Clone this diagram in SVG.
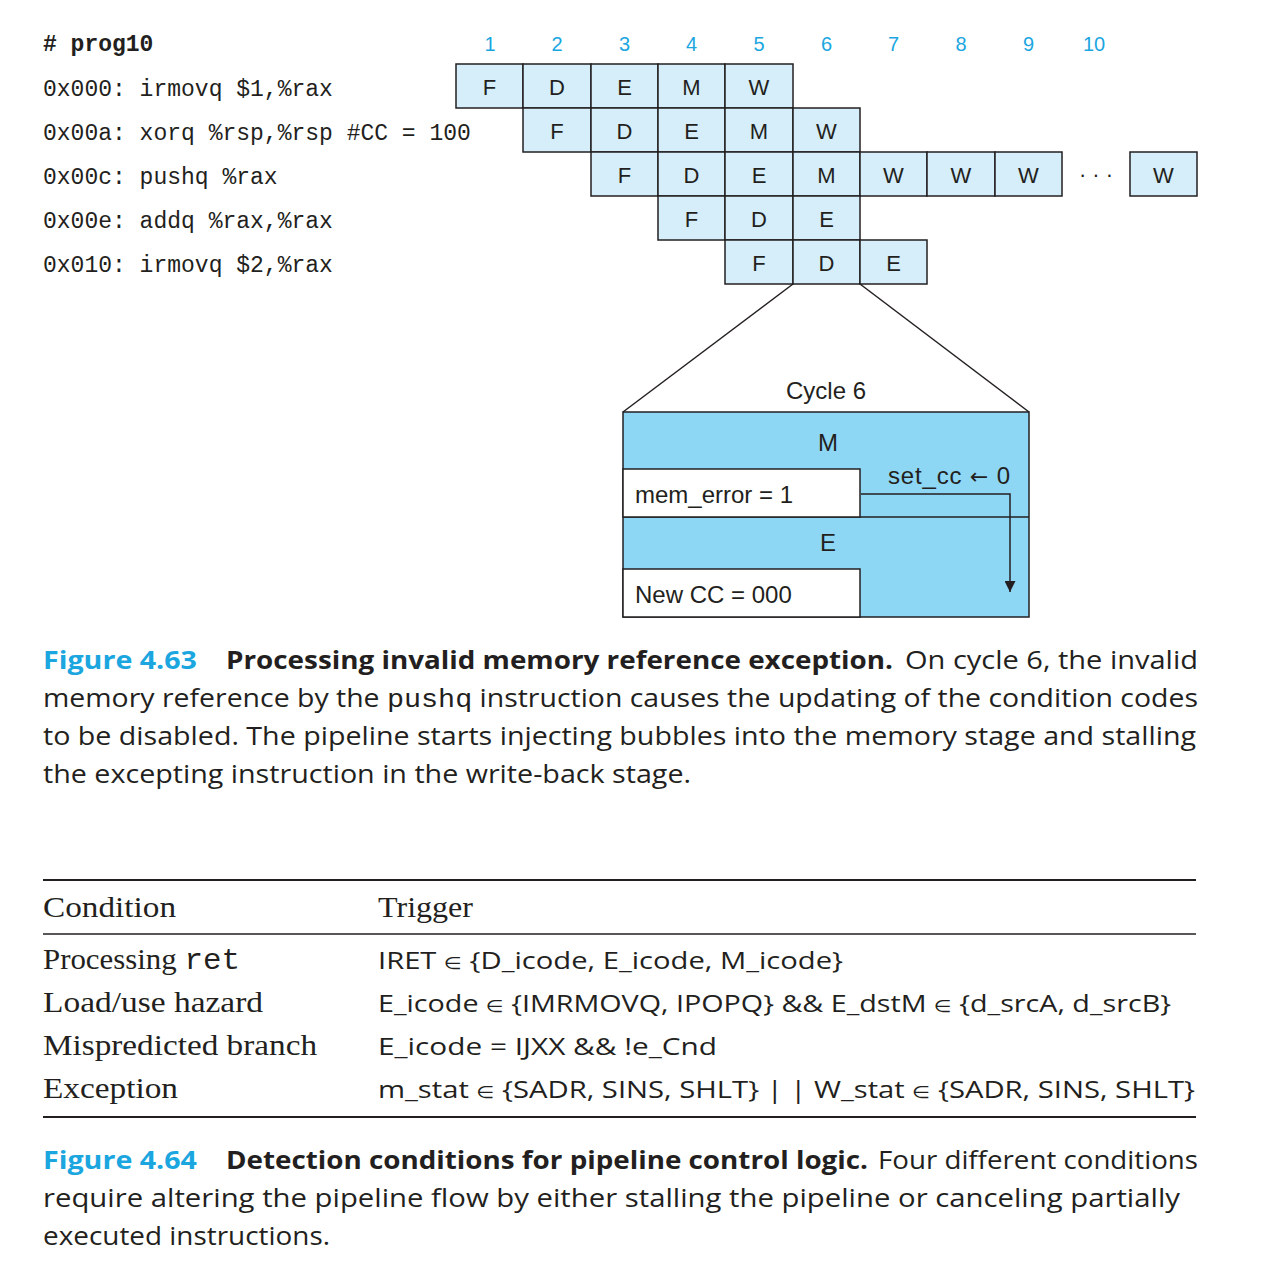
<svg xmlns="http://www.w3.org/2000/svg" width="1280" height="1288" viewBox="0 0 1280 1288">
<style>
.bg{fill:#ffffff}
.cell{fill:#d5eefa;stroke:#231f20;stroke-width:1.5}
.lbl{font-family:"Liberation Sans",Arial,sans-serif;font-size:22px;fill:#231f20;text-anchor:middle}
.num{font-family:"Liberation Sans",Arial,sans-serif;font-size:20px;fill:#1ba6e0;text-anchor:middle}
.code{font-family:"Liberation Mono","DejaVu Sans Mono",monospace;font-size:23px;fill:#231f20}
.box{fill:#8dd6f4;stroke:#231f20;stroke-width:1.5}
.wbox{fill:#ffffff;stroke:#231f20;stroke-width:1.5}
.blbl{font-family:"Liberation Sans",Arial,sans-serif;font-size:24px;fill:#231f20}
.conn{fill:none;stroke:#231f20;stroke-width:1.5}
.cap{font-family:"Open Sans","Liberation Sans",sans-serif;font-size:25px;fill:#231f20}
.b{font-weight:bold}
.fig{fill:#1ba6e0;font-weight:bold}
.mono{font-family:"Liberation Mono","DejaVu Sans Mono",monospace}
.ser{font-family:"Liberation Serif","Times New Roman",serif;font-size:29px;fill:#231f20}
.trg{font-family:"Open Sans","Liberation Sans","DejaVu Sans",sans-serif;font-size:24px;fill:#231f20}
.el{font-family:"DejaVu Sans",sans-serif;font-size:17px}
.rule{stroke:#231f20;fill:none}
</style>
<defs>
<marker id="ah" viewBox="0 0 10 10" refX="10" refY="5" markerWidth="11" markerHeight="11" markerUnits="userSpaceOnUse" orient="auto">
<path d="M0,0 L10,5 L0,10 z" fill="#231f20"/>
</marker>
</defs>
<rect class="bg" x="0" y="0" width="1280" height="1288"/>

<g id="code">
<text class="code b" x="43" y="51"># prog10</text>
<text class="code" x="43" y="96">0x000: irmovq $1,%rax</text>
<text class="code" x="43" y="140">0x00a: xorq %rsp,%rsp #CC = 100</text>
<text class="code" x="43" y="184">0x00c: pushq %rax</text>
<text class="code" x="43" y="228">0x00e: addq %rax,%rax</text>
<text class="code" x="43" y="272">0x010: irmovq $2,%rax</text>
</g>

<g id="cycles">
<text class="num" x="490" y="51">1</text>
<text class="num" x="557" y="51">2</text>
<text class="num" x="624.5" y="51">3</text>
<text class="num" x="691.5" y="51">4</text>
<text class="num" x="759" y="51">5</text>
<text class="num" x="826.5" y="51">6</text>
<text class="num" x="893.5" y="51">7</text>
<text class="num" x="961" y="51">8</text>
<text class="num" x="1028.5" y="51">9</text>
<text class="num" x="1094" y="51">10</text>
</g>

<g id="row1">
<g id="r1c1"><rect class="cell" x="456" y="64" width="67" height="44"/><text class="lbl" x="489.5" y="95">F</text></g>
<g id="r1c2"><rect class="cell" x="523" y="64" width="68" height="44"/><text class="lbl" x="557" y="95">D</text></g>
<g id="r1c3"><rect class="cell" x="591" y="64" width="67" height="44"/><text class="lbl" x="624.5" y="95">E</text></g>
<g id="r1c4"><rect class="cell" x="658" y="64" width="67" height="44"/><text class="lbl" x="691.5" y="95">M</text></g>
<g id="r1c5"><rect class="cell" x="725" y="64" width="68" height="44"/><text class="lbl" x="759" y="95">W</text></g>
</g>
<g id="row2">
<g id="r2c2"><rect class="cell" x="523" y="108" width="68" height="44"/><text class="lbl" x="557" y="139">F</text></g>
<g id="r2c3"><rect class="cell" x="591" y="108" width="67" height="44"/><text class="lbl" x="624.5" y="139">D</text></g>
<g id="r2c4"><rect class="cell" x="658" y="108" width="67" height="44"/><text class="lbl" x="691.5" y="139">E</text></g>
<g id="r2c5"><rect class="cell" x="725" y="108" width="68" height="44"/><text class="lbl" x="759" y="139">M</text></g>
<g id="r2c6"><rect class="cell" x="793" y="108" width="67" height="44"/><text class="lbl" x="826.5" y="139">W</text></g>
</g>
<g id="row3">
<g id="r3c3"><rect class="cell" x="591" y="152" width="67" height="44"/><text class="lbl" x="624.5" y="183">F</text></g>
<g id="r3c4"><rect class="cell" x="658" y="152" width="67" height="44"/><text class="lbl" x="691.5" y="183">D</text></g>
<g id="r3c5"><rect class="cell" x="725" y="152" width="68" height="44"/><text class="lbl" x="759" y="183">E</text></g>
<g id="r3c6"><rect class="cell" x="793" y="152" width="67" height="44"/><text class="lbl" x="826.5" y="183">M</text></g>
<g id="r3c7"><rect class="cell" x="860" y="152" width="67" height="44"/><text class="lbl" x="893.5" y="183">W</text></g>
<g id="r3c8"><rect class="cell" x="927" y="152" width="68" height="44"/><text class="lbl" x="961" y="183">W</text></g>
<g id="r3c9"><rect class="cell" x="995" y="152" width="67" height="44"/><text class="lbl" x="1028.5" y="183">W</text></g>
<g id="r3dots"><text class="lbl" x="1096" y="182">· · ·</text></g>
<g id="r3last"><rect class="cell" x="1130" y="152" width="67" height="44"/><text class="lbl" x="1163.5" y="183">W</text></g>
</g>
<g id="row4">
<g id="r4c4"><rect class="cell" x="658" y="196" width="67" height="44"/><text class="lbl" x="691.5" y="227">F</text></g>
<g id="r4c5"><rect class="cell" x="725" y="196" width="68" height="44"/><text class="lbl" x="759" y="227">D</text></g>
<g id="r4c6"><rect class="cell" x="793" y="196" width="67" height="44"/><text class="lbl" x="826.5" y="227">E</text></g>
</g>
<g id="row5">
<g id="r5c5"><rect class="cell" x="725" y="240" width="68" height="44"/><text class="lbl" x="759" y="271">F</text></g>
<g id="r5c6"><rect class="cell" x="793" y="240" width="67" height="44"/><text class="lbl" x="826.5" y="271">D</text></g>
<g id="r5c7"><rect class="cell" x="860" y="240" width="67" height="44"/><text class="lbl" x="893.5" y="271">E</text></g>
</g>

<g id="cycle6">
<text class="blbl" x="826" y="399" text-anchor="middle">Cycle 6</text>
<rect class="box" x="623" y="412" width="406" height="205"/>
<line class="conn" x1="623" y1="517" x2="1029" y2="517"/>
<text class="blbl" x="828" y="451" text-anchor="middle">M</text>
<text class="blbl" x="828" y="551" text-anchor="middle">E</text>
<g id="memerr"><rect class="wbox" x="623" y="469" width="237" height="48"/><text class="blbl" x="635" y="503">mem_error = 1</text></g>
<g id="newcc"><rect class="wbox" x="623" y="569" width="237" height="48"/><text class="blbl" x="635" y="603">New CC = 000</text></g>
<text class="blbl" x="888" y="484" textLength="122" lengthAdjust="spacing">set_cc <tspan font-family="DejaVu Sans, sans-serif" font-size="22">←</tspan> 0</text>
</g>

<g id="connectors">
<line class="conn" x1="793" y1="284" x2="623" y2="412"/>
<line class="conn" x1="860" y1="284" x2="1029" y2="412"/>
<path class="conn" d="M861,494 H1010 V592" stroke-width="2" marker-end="url(#ah)"/>
</g>

<g id="caption63">
<text class="cap fig" x="43" y="669" textLength="154" lengthAdjust="spacingAndGlyphs">Figure 4.63</text>
<text class="cap b" x="226" y="669" textLength="667" lengthAdjust="spacingAndGlyphs">Processing invalid memory reference exception.</text>
<text class="cap" x="905" y="669" textLength="293" lengthAdjust="spacingAndGlyphs">On cycle 6, the invalid</text>
<text class="cap" x="43" y="707" textLength="1155" lengthAdjust="spacingAndGlyphs">memory reference by the <tspan class="mono">pushq</tspan> instruction causes the updating of the condition codes</text>
<text class="cap" x="43" y="745" textLength="1153" lengthAdjust="spacingAndGlyphs">to be disabled. The pipeline starts injecting bubbles into the memory stage and stalling</text>
<text class="cap" x="43" y="783" textLength="648" lengthAdjust="spacingAndGlyphs">the excepting instruction in the write-back stage.</text>
</g>

<g id="table">
<line class="rule" x1="43" y1="880" x2="1196" y2="880" stroke-width="2"/>
<line class="rule" x1="43" y1="934" x2="1196" y2="934" stroke-width="1.5"/>
<line class="rule" x1="43" y1="1117" x2="1196" y2="1117" stroke-width="2"/>
<text class="ser" x="43" y="917" textLength="133" lengthAdjust="spacingAndGlyphs">Condition</text>
<text class="ser" x="378" y="917" textLength="95" lengthAdjust="spacingAndGlyphs">Trigger</text>
<text class="ser" x="43" y="969" textLength="197" lengthAdjust="spacingAndGlyphs">Processing <tspan class="mono">ret</tspan></text>
<text class="ser" x="43" y="1012" textLength="220" lengthAdjust="spacingAndGlyphs">Load/use hazard</text>
<text class="ser" x="43" y="1055" textLength="274" lengthAdjust="spacingAndGlyphs">Mispredicted branch</text>
<text class="ser" x="43" y="1098" textLength="135" lengthAdjust="spacingAndGlyphs">Exception</text>
<text class="trg" x="378" y="969" textLength="465" lengthAdjust="spacingAndGlyphs">IRET <tspan class="el">∈</tspan> {D_icode, E_icode, M_icode}</text>
<text class="trg" x="378" y="1012" textLength="793" lengthAdjust="spacingAndGlyphs">E_icode <tspan class="el">∈</tspan> {IMRMOVQ, IPOPQ} &amp;&amp; E_dstM <tspan class="el">∈</tspan> {d_srcA, d_srcB}</text>
<text class="trg" x="378" y="1055" textLength="339" lengthAdjust="spacingAndGlyphs">E_icode = IJXX &amp;&amp; !e_Cnd</text>
<text class="trg" x="378" y="1098" textLength="817" lengthAdjust="spacingAndGlyphs">m_stat <tspan class="el">∈</tspan> {SADR, SINS, SHLT} | | W_stat <tspan class="el">∈</tspan> {SADR, SINS, SHLT}</text>
</g>

<g id="caption64">
<text class="cap fig" x="43" y="1169" textLength="154" lengthAdjust="spacingAndGlyphs">Figure 4.64</text>
<text class="cap b" x="226" y="1169" textLength="642" lengthAdjust="spacingAndGlyphs">Detection conditions for pipeline control logic.</text>
<text class="cap" x="878" y="1169" textLength="320" lengthAdjust="spacingAndGlyphs">Four different conditions</text>
<text class="cap" x="43" y="1207" textLength="1137" lengthAdjust="spacingAndGlyphs">require altering the pipeline flow by either stalling the pipeline or canceling partially</text>
<text class="cap" x="43" y="1245" textLength="287" lengthAdjust="spacingAndGlyphs">executed instructions.</text>
</g>
</svg>
